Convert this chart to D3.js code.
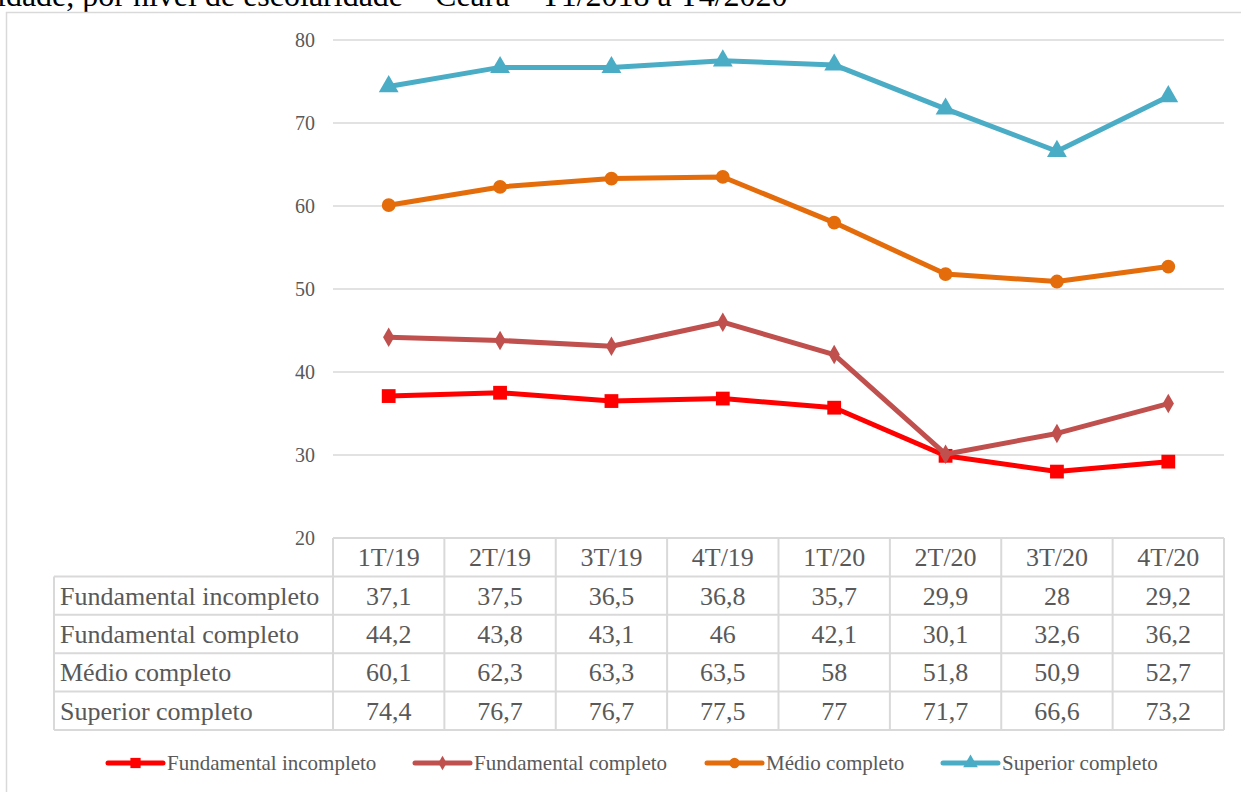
<!DOCTYPE html>
<html><head><meta charset="utf-8">
<script src="https://cdn.jsdelivr.net/npm/d3@7"></script>
<style>body{margin:0;background:#fff;}svg{display:block;} text{font-family:"Liberation Serif","Times New Roman",serif;}</style>
</head><body>
<script>
const categories = ["1T/19","2T/19","3T/19","4T/19","1T/20","2T/20","3T/20","4T/20"];
const seriesNames = ["Fundamental incompleto","Fundamental completo","Médio completo","Superior completo"];
const fundIncompleto = [37.1,37.5,36.5,36.8,35.7,29.9,28,29.2];
const fundCompleto = [44.2,43.8,43.1,46,42.1,30.1,32.6,36.2];
const medioCompleto = [60.1,62.3,63.3,63.5,58,51.8,50.9,52.7];
const superiorCompleto = [74.4,76.7,76.7,77.5,77,71.7,66.6,73.2];
const yTicks = [20,30,40,50,60,70,80];
const titleText = "idade, por nível de escolaridade – Ceará – T1/2018 a T4/2020";

(function(){
const seriesValues = [fundIncompleto, fundCompleto, medioCompleto, superiorCompleto];
const colors = ["#FF0000","#C0504D","#E46C0A","#4BACC6"];
const symbols = [d3.symbolSquare, d3.symbolDiamond, d3.symbolCircle, d3.symbolTriangle];
const symSizes = [190, 110, 150, 170];

const W = 1241, H = 792;
const svg = d3.select("body").append("svg").attr("width", W).attr("height", H);
const font = "Liberation Serif";

// title (partly above the page edge, as in the reference)
svg.append("text").attr("x", -3).attr("y", 6).attr("font-family", font)
  .attr("font-size", 32).attr("fill", "#000").text(titleText);

// chart frame
svg.append("rect").attr("x", 6.5).attr("y", 12.5).attr("width", 1260).attr("height", 800)
  .attr("fill", "none").attr("stroke", "#D9D9D9").attr("stroke-width", 1.5);

const pLeft = 333, pRight = 1224, pTop = 40, pBottom = 538;
const x = d3.scaleBand().domain(categories).range([pLeft, pRight]).padding(0);
const y = d3.scaleLinear().domain([20, 80]).range([pBottom, pTop]);

// gridlines
svg.append("g").selectAll("line").data(yTicks.filter(t => t > 20)).join("line")
  .attr("x1", pLeft).attr("x2", pRight).attr("y1", d => y(d)).attr("y2", d => y(d))
  .attr("stroke", "#D9D9D9").attr("stroke-width", 1.5);

// y axis labels
const yAxis = d3.axisLeft(y).tickValues(yTicks).tickSize(0).tickPadding(0);
const ga = svg.append("g").attr("transform", `translate(${pLeft - 18},0)`).call(yAxis);
ga.select(".domain").remove();
ga.selectAll("text").attr("font-family", font).attr("font-size", 20).attr("fill", "#595959");

// lines and markers
const cx = d => x(d) + x.bandwidth() / 2;
seriesValues.forEach((vals, i) => {
  const line = d3.line().x((d, j) => cx(categories[j])).y(d => y(d));
  svg.append("path").datum(vals).attr("d", line).attr("fill", "none")
    .attr("stroke", colors[i]).attr("stroke-width", 5).attr("stroke-linejoin", "round");
  svg.append("g").selectAll("path").data(vals).join("path")
    .attr("d", d3.symbol().type(symbols[i]).size(symSizes[i]))
    .attr("transform", (d, j) => `translate(${cx(categories[j])},${y(d)})`)
    .attr("fill", colors[i]);
});

// data table
const rowH = 38.4, tableLeft = 54;
const tb = svg.append("g");
const lineCol = "#D9D9D9";
tb.append("line").attr("x1", pLeft).attr("x2", pRight).attr("y1", pBottom).attr("y2", pBottom).attr("stroke", lineCol).attr("stroke-width", 2);
for (let r = 1; r <= 5; r++) {
  tb.append("line").attr("x1", tableLeft).attr("x2", pRight)
    .attr("y1", pBottom + r * rowH).attr("y2", pBottom + r * rowH).attr("stroke", lineCol).attr("stroke-width", 2);
}
const colEdges = categories.map(c => x(c)).concat([pRight]);
tb.selectAll("line.v").data(colEdges).join("line").attr("class", "v")
  .attr("x1", d => d).attr("x2", d => d).attr("y1", pBottom).attr("y2", pBottom + 5 * rowH)
  .attr("stroke", lineCol).attr("stroke-width", 2);
tb.append("line").attr("x1", tableLeft).attr("x2", tableLeft).attr("y1", pBottom + rowH).attr("y2", pBottom + 5 * rowH)
  .attr("stroke", lineCol).attr("stroke-width", 2);

const tfs = 26;
tb.selectAll("text.h").data(categories).join("text").attr("class", "h")
  .attr("x", d => cx(d)).attr("y", pBottom + rowH / 2 + 9).attr("text-anchor", "middle")
  .attr("font-family", font).attr("font-size", tfs).attr("fill", "#595959").text(d => d);

seriesNames.forEach((name, i) => {
  const yy = pBottom + rowH * (i + 1) + rowH / 2 + 9;
  tb.append("text").attr("x", 60).attr("y", yy).attr("font-family", font).attr("font-size", tfs)
    .attr("fill", "#595959").text(name);
  tb.append("g").selectAll("text").data(seriesValues[i]).join("text")
    .attr("x", (d, j) => cx(categories[j])).attr("y", yy).attr("text-anchor", "middle")
    .attr("font-family", font).attr("font-size", tfs).attr("fill", "#595959")
    .text(d => String(d).replace(".", ","));
});

// legend
const legX = [108, 415, 707, 943];
const legY = 763;
seriesNames.forEach((name, i) => {
  const g = svg.append("g");
  g.append("line").attr("x1", legX[i]).attr("x2", legX[i] + 55).attr("y1", legY).attr("y2", legY)
    .attr("stroke", colors[i]).attr("stroke-width", 5).attr("stroke-linecap", "round");
  g.append("path").attr("d", d3.symbol().type(symbols[i]).size(symSizes[i] * 0.55))
    .attr("transform", `translate(${legX[i] + 27.5},${legY})`).attr("fill", colors[i]);
  g.append("text").attr("x", legX[i] + 59).attr("y", legY + 7).attr("font-family", font)
    .attr("font-size", 21).attr("fill", "#595959").text(name);
});
})();
</script>
</body></html>
